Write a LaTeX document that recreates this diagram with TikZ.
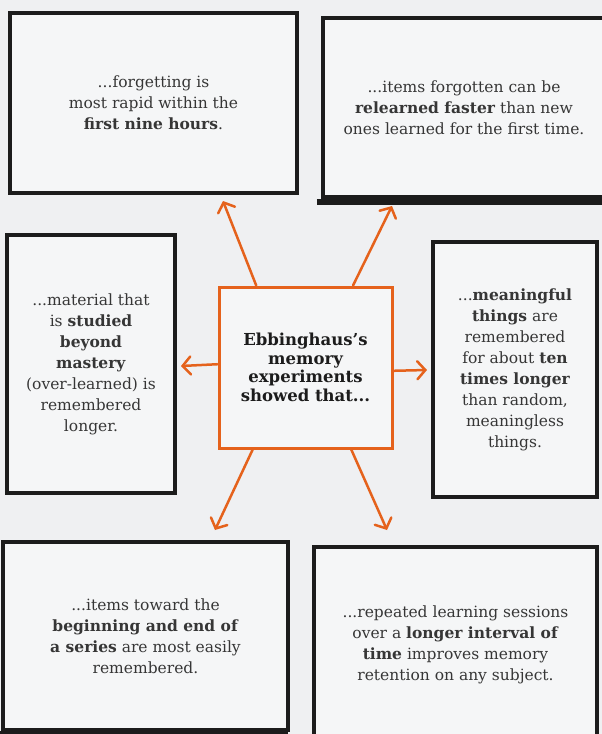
\documentclass[tikz,border=0pt]{standalone}
\usepackage{fontspec}
\setmainfont{DejaVu Serif}
\usetikzlibrary{arrows.meta,calc}
\definecolor{bg}{HTML}{EFF0F2}
\definecolor{boxfill}{HTML}{F5F6F7}
\definecolor{ink}{HTML}{1C1C1C}
\definecolor{txt}{HTML}{363636}
\definecolor{org}{HTML}{E5621C}
\begin{document}
\begin{tikzpicture}[x=1pt,y=-1pt,
  box/.style={draw=ink, line width=4.5pt, fill=boxfill, rectangle, inner sep=0pt,
    align=center, text=txt, font=\fontsize{15.5}{21}\selectfont},
  hub/.style={draw=org, line width=3pt, fill=boxfill, rectangle, inner sep=0pt,
    align=center, text=ink, font=\bfseries\fontsize{16.5}{18.5}\selectfont},
  arr/.style={draw=org, line width=2.5pt, line cap=round,
    -{Straight Barb[length=8pt,width=18pt,line cap=round]}},
  bar/.style={draw=ink, line width=6pt}]
\fill[bg] (0,0) rectangle (602,734);
\useasboundingbox (0,0) rectangle (602,734);

\node[box, minimum width=287pt, minimum height=180pt] (tl) at (153.5,103)
  {...forgetting is\\most rapid within the\\\textbf{first nine hours}.};
\node[box, minimum width=282pt, minimum height=179pt] (tr) at (464,107.5)
  {...items forgotten can be\\\textbf{relearned faster} than new\\ones learned for the first time.};
\node[box, minimum width=168pt, minimum height=258pt] (lm) at (91,364)
  {...material that\\is \textbf{studied}\\\textbf{beyond}\\\textbf{mastery}\\(over-learned) is\\remembered\\longer.};
\node[box, minimum width=164pt, minimum height=255pt] (rm) at (515,369.5)
  {...\textbf{meaningful}\\\textbf{things} are\\remembered\\for about \textbf{ten}\\\textbf{times longer}\\than random,\\meaningless\\things.};
\node[box, minimum width=285pt, minimum height=188pt] (bl) at (145.5,636)
  {...items toward the\\\textbf{beginning and end of}\\\textbf{a series} are most easily\\remembered.};
\node[box, minimum width=283pt, minimum height=195pt] (br) at (455.5,644.5)
  {...repeated learning sessions\\over a \textbf{longer interval of}\\\textbf{time} improves memory\\retention on any subject.};
\node[hub, minimum width=173pt, minimum height=161pt] (c) at (305.5,367.5)
  {Ebbinghaus's\\memory\\experiments\\showed that...};

\draw[bar] ($(tr.south west)+(-4,3)$) -- ($(tr.south east)+(0,3)$);
\draw[bar] ($(bl.south west)+(-4,2)$) -- ($(bl.south east)+(-2,2)$);

\coordinate (a1) at (223,201);
\coordinate (a2) at (392,206);
\coordinate (a3) at (181,366);
\coordinate (a4) at (427,370);
\coordinate (a5) at (215,530);
\coordinate (a6) at (387,530);

\draw[arr] ($(c.north west)!0.22!(c.north east)$) -- (a1);
\draw[arr] ($(c.north west)!0.77!(c.north east)$) -- (a2);
\draw[arr] ($(c.north west)!0.48!(c.south west)$) -- (a3);
\draw[arr] ($(c.north east)!0.52!(c.south east)$) -- (a4);
\draw[arr] ($(c.south west)!0.2!(c.south east)$) -- (a5);
\draw[arr] ($(c.south west)!0.76!(c.south east)$) -- (a6);
\end{tikzpicture}
\end{document}
